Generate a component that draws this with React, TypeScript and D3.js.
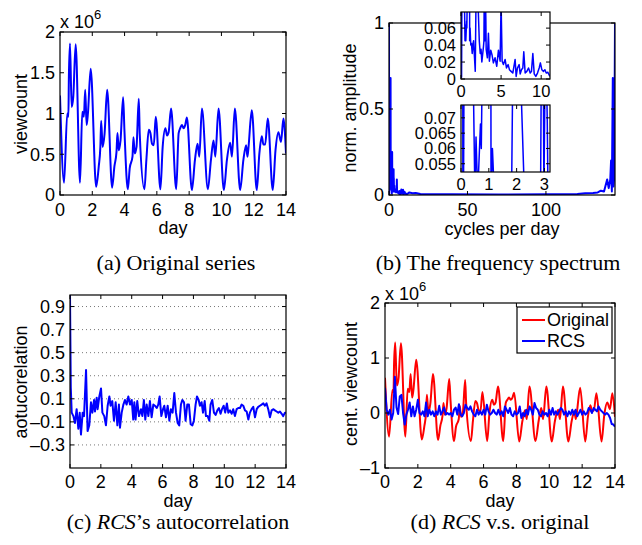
import React, { useEffect, useRef } from 'react';
import * as d3 from 'd3';

const W = 642;
const H = 545;
const SANS = '"Liberation Sans", Arial, Helvetica, sans-serif';
const SERIF = '"Liberation Serif", "Times New Roman", serif';

// (a) original series: turning points (day, views x 1e6)
const viewDay = [
  0, 0.25, 0.45, 0.52, 0.55, 0.62, 0.72, 0.82, 0.97, 1.24,
  1.38, 1.48, 1.56, 1.65, 1.73, 1.9, 2.24,
  2.4, 2.5, 2.55, 2.64, 2.76, 2.92, 3.23,
  3.37, 3.5, 3.56, 3.64, 3.75, 3.91, 3.99, 4.2,
  4.32, 4.49, 4.55, 4.63, 4.74, 4.88, 4.94, 5.23,
  5.35, 5.5, 5.6, 5.7, 5.81, 5.93, 6.22,
  6.36, 6.53, 6.63, 6.73, 6.88, 7.2,
  7.35, 7.45, 7.55, 7.66, 7.76, 7.86, 8.17,
  8.36, 8.52, 8.63, 8.79, 9.16,
  9.35, 9.51, 9.62, 9.82, 10.15,
  10.34, 10.54, 10.65, 10.83, 11.16,
  11.36, 11.53, 11.61, 11.67, 11.88, 12.19,
  12.35, 12.5, 12.6, 12.71, 12.87, 13.18,
  13.35, 13.53, 13.69, 13.84, 14.0,
];
const viewVal = [
  1.22, 0.15, 1.0, 0.96, 1.45, 1.86, 1.08, 1.2, 1.85, 0.15,
  1.02, 0.96, 1.29, 0.86, 1.0, 1.55, 0.1,
  0.35, 0.59, 0.91, 0.59, 0.75, 1.29, 0.09,
  0.35, 0.53, 0.76, 0.55, 0.67, 1.2, 0.8, 0.07,
  0.33, 0.47, 0.71, 0.51, 0.59, 1.18, 0.75, 0.07,
  0.43, 0.8, 0.76, 0.63, 0.61, 0.96, 0.07,
  0.59, 0.82, 0.73, 0.77, 1.06, 0.07,
  0.76, 0.82, 0.86, 0.82, 0.86, 0.95, 0.06,
  0.43, 0.63, 0.47, 1.06, 0.07,
  0.43, 0.67, 0.47, 1.06, 0.06,
  0.43, 0.64, 0.47, 1.06, 0.06,
  0.43, 0.61, 0.47, 0.57, 1.04, 0.06,
  0.51, 0.72, 0.62, 0.62, 0.94, 0.06,
  0.55, 0.77, 0.65, 0.94, 0.51,
];
// (d) centred original, same days
const centVal = [
  0.64, -0.43, 0.42, 0.38, 0.87, 1.28, 0.5, 0.62, 1.27, -0.43,
  0.44, 0.38, 0.71, 0.28, 0.42, 0.97, -0.48,
  -0.23, 0.01, 0.33, 0.01, 0.17, 0.71, -0.49,
  -0.23, -0.05, 0.18, -0.03, 0.09, 0.62, 0.22, -0.51,
  -0.25, -0.11, 0.13, -0.07, 0.01, 0.6, 0.17, -0.51,
  -0.15, 0.22, 0.18, 0.05, 0.03, 0.38, -0.51,
  0.01, 0.24, 0.15, 0.19, 0.48, -0.51,
  0.18, 0.24, 0.28, 0.24, 0.28, 0.37, -0.52,
  -0.15, 0.05, -0.11, 0.48, -0.51,
  -0.15, 0.09, -0.11, 0.48, -0.52,
  -0.15, 0.06, -0.11, 0.48, -0.52,
  -0.15, 0.03, -0.11, -0.01, 0.46, -0.52,
  -0.07, 0.14, 0.04, 0.04, 0.36, -0.52,
  -0.03, 0.19, 0.07, 0.36, -0.07,
];
// (d) RCS, one value every 0.1 day from day 0 to 14
const rcsStep = 0.1;
const rcsVal = [
  0.46, 0.06, -0.03, 0.06, -0.12, 0.0, 0.66, 0.1, -0.02, 0.3,
  0.33, 0.0, -0.21, -0.03, 0.06, 0.19, -0.06, 0.12, -0.06, 0.06,
  0.24, 0.0, -0.03, 0.03, -0.06, 0.19, -0.06, 0.06, -0.03, 0.03,
  -0.06, 0.03, -0.03, 0.13, -0.03, 0.03, 0.1, -0.03, 0.0, -0.03,
  0.0, -0.06, 0.06, 0.1, -0.03, 0.16, -0.03, -0.06, 0.0, 0.15,
  0.09, 0.06, 0.12, 0.03, -0.03, -0.06, 0.06, -0.03, 0.03, -0.03,
  0.06, -0.03, 0.15, 0.03, -0.03, 0.0, 0.06, 0.0, -0.03, 0.06,
  -0.03, 0.03, -0.06, 0.12, 0.06, 0.0, 0.09, -0.03, -0.06, 0.03,
  -0.03, 0.0, 0.12, -0.09, 0.0, -0.06, 0.06, -0.03, 0.12, 0.06,
  -0.03, 0.18, 0.09, 0.06, -0.03, -0.06, 0.03, -0.03, 0.0, -0.06,
  0.06, -0.03, 0.09, -0.03, 0.03, -0.03, 0.03, 0.09, 0.06, -0.03,
  0.03, -0.06, 0.03, -0.03, 0.06, -0.03, 0.06, -0.06, 0.0, 0.06,
  -0.03, 0.03, -0.03, 0.0, 0.09, 0.06, 0.0, 0.09, 0.06, 0.03,
  0.12, 0.06, 0.03, 0.0, -0.03, 0.0, -0.03, -0.09, -0.2, -0.21,
  -0.25,
];

// (c) autocorrelation of RCS
const acfLag = [
  0, 0.05, 0.11, 0.22, 0.32, 0.43, 0.54, 0.63, 0.71, 0.82, 0.91, 1.04, 1.14, 1.25, 1.36, 1.45,
  1.56, 1.62, 1.73, 1.79, 1.9, 2.01, 2.1, 2.22, 2.33, 2.44, 2.55, 2.63, 2.74, 2.85, 2.96, 3.07,
  3.17, 3.24, 3.35, 3.46, 3.56, 3.67, 3.78, 3.89, 4.0, 4.1, 4.17, 4.25, 4.36, 4.47, 4.6, 4.69,
  4.79, 4.88, 4.97, 5.08, 5.18, 5.29, 5.4, 5.51, 5.62, 5.72, 5.81, 5.92, 6.03, 6.11, 6.22, 6.33,
  6.44, 6.54, 6.65, 6.76, 6.87, 6.98, 7.08, 7.19, 7.28, 7.39, 7.49, 7.6, 7.71, 7.82, 7.93, 8.03,
  8.14, 8.23, 8.34, 8.42, 8.53, 8.62, 8.73, 8.81, 8.92, 9.03, 9.11, 9.22, 9.33, 9.44, 9.55, 9.65,
  9.76, 9.85, 9.96, 10.06, 10.17, 10.26, 10.37, 10.48, 10.58, 10.69, 10.8, 10.91, 11.02, 11.12,
  11.23, 11.34, 11.45, 11.56, 11.66, 11.77, 11.88, 11.99, 12.1, 12.2, 12.31, 12.42, 12.53, 12.63,
  12.74, 12.85, 12.96, 13.07, 13.17, 13.28, 13.39, 13.5, 13.61, 13.72, 13.82, 13.93, 14.0,
];
const acfVal = [
  1.0, 0.2, -0.02, -0.05, -0.11, 0.01, -0.16, -0.02, -0.21, -0.02, -0.05, 0.35, -0.18, -0.13, 0.07, -0.02,
  0.09, -0.01, 0.11, 0.01, 0.12, 0.19, -0.02, -0.05, -0.13, 0.04, 0.12, 0.04, 0.08, -0.09, 0.07, -0.13,
  0.05, -0.15, -0.02, 0.05, 0.09, 0.05, 0.12, 0.05, 0.09, -0.08, 0.07, -0.08, 0.08, -0.05, 0.01, -0.05,
  0.09, -0.08, 0.05, -0.05, 0.08, -0.06, 0.05, 0.04, 0.02, 0.05, 0.12, -0.05, 0.01, 0.04, -0.06, 0.04,
  -0.09, 0.01, -0.02, 0.15, -0.02, -0.11, -0.13, 0.05, 0.09, 0.07, -0.09, 0.05, 0.05, -0.12, -0.13, -0.09,
  0.05, 0.12, 0.09, 0.04, 0.07, -0.02, 0.08, -0.05, -0.05, -0.09, 0.05, 0.09, -0.02, -0.04, 0.0, 0.02,
  -0.03, 0.01, 0.04, -0.02, 0.06, -0.02, 0.0, -0.03, 0.01, -0.05, 0.01, 0.02, 0.02, 0.05,
  0.04, 0.0, -0.01, -0.08, -0.02, 0.01, 0.03, -0.06, 0.01, 0.03, 0.04, 0.05, 0.06, 0.04,
  0.06, 0.01, -0.06, 0.0, 0.01, 0.0, -0.01, -0.02, -0.01, -0.03, -0.05, -0.02, -0.02,
];

// (b) normalised amplitude spectrum (cycles per day)
const specFreq = [
  0, 0.07, 0.14, 0.21, 0.28, 0.35, 0.43, 0.5, 0.54, 0.6, 0.7, 0.73, 0.78, 0.85, 0.93, 1.0,
  1.08, 1.13, 1.22, 1.3, 1.4, 1.5, 1.57, 1.78, 1.93, 2.0, 2.07, 2.14, 2.28, 2.4, 2.5, 2.6,
  2.8, 2.86, 2.93, 2.98, 3.04, 3.1, 3.14, 3.29, 3.42, 3.54, 3.71, 3.88, 4.04, 4.25, 4.46, 4.67,
  4.88, 5.0, 5.13, 5.29, 5.5, 5.67, 5.88, 6.04, 6.25, 6.46, 6.75, 6.88, 7.04, 7.25, 7.38, 7.54,
  7.71, 7.83, 8.0, 8.21, 8.42, 8.63, 8.79, 8.96, 9.13, 9.33, 9.54, 9.75, 9.9, 10.08, 10.29, 10.46,
  10.63, 10.83, 11.04, 11.2, 13, 15, 17, 20, 25, 40, 70, 100, 120, 125, 130, 133, 135, 137,
  139, 140, 141, 141.5, 142.0, 142.6, 143.0, 143.5, 144,
];
const specAmp = [
  1.0, 0.002, 0.15, 0.09, 0.1, 0.12, 0.09, 0.045, 0.0637, 0.045, 0.068, 0.06, 0.1, 0.2, 0.4, 0.68,
  0.045, 0.06, 0.04, 0.042, 0.03, 0.042, 0.045, 0.009, 0.15, 0.25, 0.1, 0.085, 0.045, 0.03, 0.035, 0.02,
  0.038, 0.045, 0.15, 0.045, 0.1, 0.07, 0.035, 0.025, 0.054, 0.021, 0.034, 0.028, 0.019, 0.025, 0.015, 0.034,
  0.021, 0.09, 0.021, 0.017, 0.023, 0.013, 0.017, 0.011, 0.009, 0.007, 0.023, 0.003, 0.013, 0.017, 0.006, 0.011,
  0.013, 0.032, 0.007, 0.009, 0.013, 0.007, 0.009, 0.03, 0.006, 0.003, 0.007, 0.013, 0.019, 0.011, 0.009, 0.011,
  0.007, 0.008, 0.004, 0.003, 0.015, 0.01, 0.012, 0.006, 0.005, 0.004, 0.003, 0.004, 0.006, 0.01, 0.012, 0.015, 0.025, 0.02,
  0.09, 0.04, 0.09, 0.2, 0.02, 0.68, 0.05, 0.1, 1.0,
];

const dayTicks = [0, 2, 4, 6, 8, 10, 12, 14];
const viewTicks = [0, 0.5, 1, 1.5, 2];
const ampTicks = [0, 0.5, 1];
const freqTicks = [0, 50, 100];
const in1XTicks = [0, 5, 10];
const in1YTicks = [0, 0.02, 0.04, 0.06];
const in2XTicks = [0, 1, 2, 3];
const in2YTicks = [0.055, 0.06, 0.065, 0.07];
const acfTicks = [-0.3, -0.1, 0.1, 0.3, 0.5, 0.7, 0.9];
const centTicks = [-1, 0, 1, 2];

type Box = { l: number; t: number; r: number; b: number };

let clipId = 0;

function makeAxes(svg: any, box: Box, xDom: number[], yDom: number[], xt: number[], yt: number[],
  opt: { fs?: number; gap?: number; grid?: boolean; bg?: boolean } = {}) {
  const fs = opt.fs ?? 18;
  const gap = opt.gap ?? 15;
  const x = d3.scaleLinear().domain(xDom).range([box.l, box.r]);
  const y = d3.scaleLinear().domain(yDom).range([box.b, box.t]);
  const g = svg.append('g');
  if (opt.bg) {
    g.append('rect').attr('x', box.l).attr('y', box.t).attr('width', box.r - box.l).attr('height', box.b - box.t).attr('fill', '#fff');
  }
  if (opt.grid) {
    g.selectAll('.grid').data(yt).enter().append('line')
      .attr('x1', box.l).attr('x2', box.r).attr('y1', (d: number) => y(d)).attr('y2', (d: number) => y(d))
      .attr('stroke', '#777').attr('stroke-width', 1).attr('stroke-dasharray', '1,3');
  }
  const id = 'clip' + (clipId++);
  svg.append('clipPath').attr('id', id).append('rect')
    .attr('x', box.l).attr('y', box.t).attr('width', box.r - box.l).attr('height', box.b - box.t);
  const plot = svg.append('g').attr('clip-path', `url(#${id})`);
  const frame = svg.append('g');
  const tl = 4;
  xt.forEach((v) => {
    frame.append('line').attr('x1', x(v)).attr('x2', x(v)).attr('y1', box.b).attr('y2', box.b - tl).attr('stroke', '#000');
    frame.append('line').attr('x1', x(v)).attr('x2', x(v)).attr('y1', box.t).attr('y2', box.t + tl).attr('stroke', '#000');
    frame.append('text').attr('x', x(v)).attr('y', box.b + gap).attr('dy', '0.36em')
      .attr('text-anchor', 'middle').attr('font-family', SANS).attr('font-size', fs)
      .text(String(v));
  });
  yt.forEach((v) => {
    frame.append('line').attr('x1', box.l).attr('x2', box.l + tl).attr('y1', y(v)).attr('y2', y(v)).attr('stroke', '#000');
    frame.append('line').attr('x1', box.r).attr('x2', box.r - tl).attr('y1', y(v)).attr('y2', y(v)).attr('stroke', '#000');
    frame.append('text').attr('x', box.l - 5).attr('y', y(v)).attr('dy', '0.36em')
      .attr('text-anchor', 'end').attr('font-family', SANS).attr('font-size', fs)
      .text(String(v).replace('-', '\u2013'));
  });
  frame.append('rect').attr('x', box.l).attr('y', box.t).attr('width', box.r - box.l).attr('height', box.b - box.t)
    .attr('fill', 'none').attr('stroke', '#000').attr('stroke-width', 1.2);
  return { x, y, plot, frame };
}

function addLine(ax: any, xs: number[], ys: number[], color: string, width: number, curve: any = d3.curveLinear) {
  const pts = xs.map((v, i) => [v, ys[i]] as [number, number]);
  const line = d3.line<[number, number]>().x((d) => ax.x(d[0])).y((d) => ax.y(d[1])).curve(curve);
  ax.plot.append('path').attr('d', line(pts)).attr('fill', 'none').attr('stroke', color)
    .attr('stroke-width', width).attr('stroke-linejoin', 'round');
}

function label(svg: any, text: string, x: number, y: number, rotate = false, fs = 18) {
  const t = svg.append('text').attr('font-family', SANS).attr('font-size', fs)
    .attr('text-anchor', 'middle').attr('dominant-baseline', 'central').text(text);
  if (rotate) t.attr('transform', `translate(${x},${y}) rotate(-90)`);
  else t.attr('x', x).attr('y', y);
}

function exponent(svg: any, x: number, y: number) {
  const t = svg.append('text').attr('font-family', SANS).attr('font-size', 18).attr('x', x).attr('y', y);
  t.append('tspan').text('x 10');
  t.append('tspan').attr('dy', -9).attr('font-size', 13).text('6');
}

function caption(svg: any, x: number, y: number, head: string, ital: string, tail: string) {
  const t = svg.append('text').attr('font-family', SERIF).attr('font-size', 22)
    .attr('text-anchor', 'middle').attr('x', x).attr('y', y);
  t.append('tspan').text(head);
  if (ital) t.append('tspan').attr('font-style', 'italic').text(ital);
  t.append('tspan').text(tail);
}

export default function App() {
  const ref = useRef<SVGSVGElement>(null);

  useEffect(() => {
    const svg = d3.select(ref.current);
    svg.selectAll('*').remove();
    clipId = 0;

    // (a) original series
    const a = makeAxes(svg, { l: 60, t: 32, r: 286, b: 195 }, [0, 14], [0, 2], dayTicks, viewTicks);
    addLine(a, viewDay, viewVal, '#0000ff', 2, d3.curveMonotoneX);
    exponent(svg, 60, 28);
    label(svg, 'viewcount', 21, 114, true);
    label(svg, 'day', 173, 228);
    caption(svg, 176, 270, '(a) Original series', '', '');

    // (b) spectrum with two insets
    const b = makeAxes(svg, { l: 389, t: 23, r: 615, b: 195 }, [0, 144], [0, 1], freqTicks, ampTicks, { gap: 15 });
    addLine(b, specFreq, specAmp, '#0000ff', 2);
    label(svg, 'norm. amplitude', 350, 108, true);
    label(svg, 'cycles per day', 502, 229);
    caption(svg, 498, 270, '(b) The frequency spectrum', '', '');

    const i1 = makeAxes(svg, { l: 461, t: 12, r: 550, b: 79 }, [0, 11.1], [0, 0.079], in1XTicks, in1YTicks,
      { fs: 16.5, gap: 12, bg: true });
    addLine(i1, specFreq, specAmp, '#0000ff', 1.5);
    const i2 = makeAxes(svg, { l: 461, t: 105, r: 550, b: 172 }, [0, 3.2], [0.0523, 0.0742], in2XTicks, in2YTicks,
      { fs: 16.5, gap: 12, bg: true });
    addLine(i2, specFreq, specAmp, '#0000ff', 1.5);

    // (c) autocorrelation
    const c = makeAxes(svg, { l: 70, t: 295, r: 286, b: 468 }, [0, 14], [-0.5, 1], dayTicks, acfTicks, { grid: true, gap: 14 });
    addLine(c, acfLag, acfVal, '#0000ff', 2);
    label(svg, 'aotucorelation', 21, 382, true);
    label(svg, 'day', 178, 501);
    caption(svg, 178, 529, '(c) ', 'RCS', '\u2019s autocorrelation');

    // (d) RCS vs original
    const d = makeAxes(svg, { l: 385, t: 303, r: 615, b: 468 }, [0, 14], [-1, 2], dayTicks, centTicks, { gap: 14 });
    addLine(d, viewDay, centVal, '#ff0000', 2, d3.curveMonotoneX);
    const rcsDay = rcsVal.map((_, i) => i * rcsStep);
    addLine(d, rcsDay, rcsVal, '#0000ff', 2);
    exponent(svg, 385, 300);
    label(svg, 'cent. viewcount', 351, 384, true);
    label(svg, 'day', 500, 501);
    caption(svg, 500, 529, '(d) ', 'RCS', ' v.s. original');

    // legend
    const lg = svg.append('g');
    lg.append('rect').attr('x', 517).attr('y', 307).attr('width', 95).attr('height', 46)
      .attr('fill', '#fff').attr('stroke', '#000').attr('stroke-width', 1.2);
    const items = [['Original', '#ff0000', 320], ['RCS', '#0000ff', 341]] as [string, string, number][];
    items.forEach(([name, col, yy]) => {
      lg.append('line').attr('x1', 522).attr('x2', 545).attr('y1', yy).attr('y2', yy).attr('stroke', col).attr('stroke-width', 2);
      lg.append('text').attr('x', 547).attr('y', yy).attr('dominant-baseline', 'central')
        .attr('font-family', SANS).attr('font-size', 18).text(name);
    });
  }, []);

  return (
    <svg ref={ref} width={W} height={H} style={{ position: 'absolute', left: 0, top: 0, background: '#fff' }} />
  );
}
